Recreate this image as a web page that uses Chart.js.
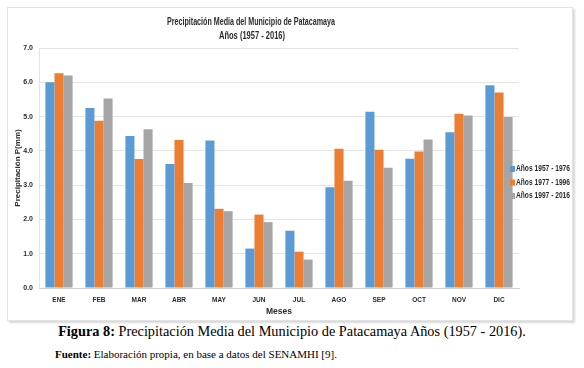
<!DOCTYPE html>
<html>
<head>
<meta charset="utf-8">
<script src="https://cdn.jsdelivr.net/npm/chart.js@4.4.0/dist/chart.umd.min.js"></script>
<style>
  html, body { margin: 0; padding: 0; background: #fff; }
  body { width: 584px; height: 368px; position: relative; overflow: hidden; }
  #marco {
    position: absolute; left: 7px; top: 7px; width: 564px; height: 312px;
    border: 1px solid #e3e3e3; box-shadow: 2px 2px 2px #d8d8d8; background: #fff;
  }
  .pie { position: absolute; left: 0; width: 584px; font-family: 'Liberation Serif', 'Times New Roman', serif; color: #000; white-space: nowrap; }
  #figura { top: 323px; left: 0px; text-align: center; font-size: 14.3px; }
  #fuente { top: 348px; left: 55px; font-size: 11px; }
</style>
</head>
<body>
<div id="marco"><canvas id="grafica" width="564" height="312"></canvas></div>
<div id="figura" class="pie"><b>Figura 8:</b> Precipitación Media del Municipio de Patacamaya Años (1957 - 2016).</div>
<div id="fuente" class="pie"><b>Fuente:</b> Elaboración propia, en base a datos del SENAMHI [9].</div>
<script>
/* Datos */
const meses = ['ENE', 'FEB', 'MAR', 'ABR', 'MAY', 'JUN', 'JUL', 'AGO', 'SEP', 'OCT', 'NOV', 'DIC'];
const periodos = ['Años 1957 - 1976', 'Años 1977 - 1996', 'Años 1997 - 2016'];
const serie1957 = [6.00, 5.25, 4.43, 3.62, 4.30, 1.15, 1.67, 2.94, 5.14, 3.77, 4.54, 5.91];
const serie1977 = [6.26, 4.88, 3.76, 4.32, 2.31, 2.14, 1.06, 4.06, 4.03, 3.98, 5.08, 5.70];
const serie1997 = [6.20, 5.53, 4.63, 3.06, 2.24, 1.92, 0.83, 3.13, 3.51, 4.33, 5.03, 4.99];
const tituloLineas = ['Precipitación Media del Municipio de Patacamaya', 'Años (1957 - 2016)'];

const colores = ['#5B9BD5', '#ED7D31', '#A5A5A5'];
const fuente = "'Liberation Sans', Arial, sans-serif";
const gris = '#2b2b2b';

/* Título y leyenda dibujados a mano para respetar su posición en el original (Calibri es más estrecha, se comprime con maxWidth) */
const extras = {
  id: 'extras',
  afterDraw(chart) {
    const ctx = chart.ctx;
    ctx.save();
    ctx.fillStyle = gris;
    ctx.font = 'bold 10px ' + fuente;
    ctx.textAlign = 'center';
    ctx.textBaseline = 'middle';
    ctx.fillText(tituloLineas[0], 243, 14, 168);
    ctx.fillText(tituloLineas[1], 244, 28, 66);

    ctx.textAlign = 'left';
    ctx.font = 'bold 8.5px ' + fuente;
    chart.data.datasets.forEach((ds, i) => {
      const y = 161 + i * 13.5;
      ctx.fillStyle = ds.backgroundColor;
      ctx.fillRect(502, y - 3, 5, 6);
      ctx.fillStyle = gris;
      ctx.fillText(ds.label, 508, y, 54);
    });
    ctx.restore();
  }
};

const ctx = document.getElementById('grafica').getContext('2d');
new Chart(ctx, {
  type: 'bar',
  data: {
    labels: meses,
    datasets: [
      { label: periodos[0], data: serie1957, backgroundColor: colores[0] },
      { label: periodos[1], data: serie1977, backgroundColor: colores[1] },
      { label: periodos[2], data: serie1997, backgroundColor: colores[2] }
    ]
  },
  options: {
    responsive: false,
    animation: false,
    categoryPercentage: 0.68,
    barPercentage: 1.0,
    layout: { padding: { top: 40, right: 53, left: 0, bottom: 0 } },
    plugins: {
      legend: { display: false },
      title: { display: false },
      tooltip: { enabled: false }
    },
    scales: {
      y: {
        min: 0, max: 7,
        ticks: {
          stepSize: 1, padding: 6, color: gris,
          font: { family: fuente, size: 7, weight: 'bold' },
          callback: v => v.toFixed(1)
        },
        grid: { color: '#e4e4e4', drawTicks: false },
        border: { display: true, color: '#e4e4e4' },
        title: {
          display: true, text: 'Precipitación P(mm)', color: gris,
          font: { family: fuente, size: 8, weight: 'bold' },
          padding: { top: 5, bottom: 0 }
        },
        afterFit: s => { s.width = 31; }
      },
      x: {
        ticks: {
          padding: 8, color: gris,
          font: { family: fuente, size: 6.5, weight: 'bold' }
        },
        grid: { display: false, drawTicks: false },
        border: { display: true, color: '#d0d0d0' },
        title: {
          display: true, text: 'Meses', color: gris,
          font: { family: fuente, size: 8.5, weight: 'bold' },
          padding: { top: 0, bottom: 3 }
        },
        afterFit: s => { s.height = 32; }
      }
    }
  },
  plugins: [extras]
});
</script>
</body>
</html>
